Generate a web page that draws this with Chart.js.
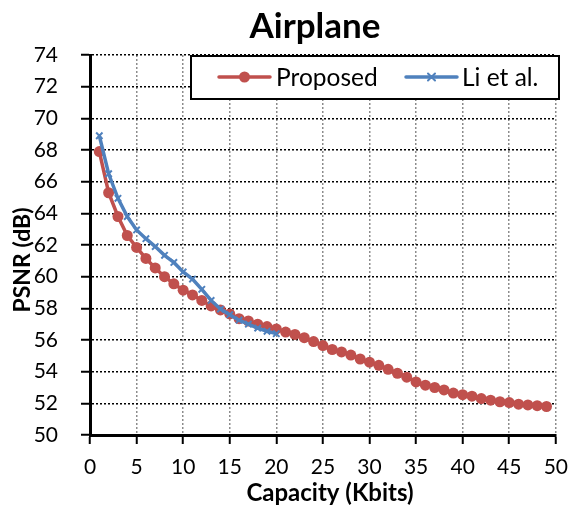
<!DOCTYPE html>
<html>
<head>
<meta charset="utf-8">
<script src="https://cdn.jsdelivr.net/npm/chart.js@4.4.0/dist/chart.umd.min.js"></script>
<style>
html,body{margin:0;padding:0;background:#fff;}
#wrap{width:579px;height:510px;position:relative;}
</style>
</head>
<body>
<div id="wrap"><canvas id="c" width="579" height="510"></canvas></div>
<script>
const chartTitle = 'Airplane';
const xTitle = 'Capacity (Kbits)';
const yTitle = 'PSNR (dB)';
const seriesNames = ['Proposed', 'Li et al.'];

const proposedX = [1,2,3,4,5,6,7,8,9,10,11,12,13,14,15,16,17,18,19,20,21,22,23,24,25,26,27,28,29,30,31,32,33,34,35,36,37,38,39,40,41,42,43,44,45,46,47,48,49];
const proposedY = [67.9,65.3,63.8,62.6,61.85,61.15,60.55,60.0,59.55,59.15,58.85,58.5,58.15,57.9,57.65,57.35,57.2,57.0,56.85,56.7,56.5,56.35,56.15,55.9,55.65,55.4,55.25,55.05,54.8,54.6,54.4,54.15,53.9,53.65,53.35,53.15,53.0,52.85,52.65,52.55,52.45,52.3,52.2,52.1,52.05,51.95,51.9,51.85,51.8];

const liX = [1,2,3,4,5,6,7,8,9,10,11,12,13,14,15,16,17,18,19,20];
const liY = [68.9,66.5,64.95,63.8,62.95,62.4,61.9,61.35,60.9,60.3,59.85,59.2,58.5,57.95,57.6,57.25,57.0,56.75,56.55,56.4];

const xMin = 0, xMax = 50, xStep = 5;
const yMin = 50, yMax = 74, yStep = 2;

const RED = '#C0504D', BLUE = '#4F81BD';
const FONT = 'Lato, "Open Sans", "Noto Sans", sans-serif';

function pts(xs, ys){ return xs.map((x,i)=>({x:x, y:ys[i]})); }

const overlay = {
  id: 'overlay',
  afterDraw(chart){
    const ctx = chart.ctx;
    ctx.save();
    ctx.fillStyle = '#000';
    ctx.textAlign = 'center';
    ctx.textBaseline = 'middle';
    ctx.font = 'bold 35px ' + FONT;
    ctx.fillText(chartTitle, 315, 27);
    ctx.font = 'bold 24px ' + FONT;
    ctx.fillText(xTitle, 330, 493);
    ctx.save();
    ctx.translate(23, 260);
    ctx.rotate(-Math.PI/2);
    ctx.font = 'bold 23px ' + FONT;
    ctx.fillText(yTitle, 0, 0);
    ctx.restore();
    const bx = 190, by = 55, bw = 370, bh = 45;
    ctx.fillStyle = '#fff';
    ctx.fillRect(bx, by, bw, bh);
    ctx.strokeStyle = '#000';
    ctx.lineWidth = 2;
    ctx.strokeRect(bx+1, by+1, bw-2, bh-2);
    const ly = by + 22;
    ctx.strokeStyle = RED; ctx.lineWidth = 3.5; ctx.lineCap = 'round';
    ctx.beginPath(); ctx.moveTo(219, ly); ctx.lineTo(270, ly); ctx.stroke();
    ctx.fillStyle = RED;
    ctx.beginPath(); ctx.arc(244.5, ly, 5.5, 0, Math.PI*2); ctx.fill();
    ctx.strokeStyle = BLUE;
    ctx.beginPath(); ctx.moveTo(406, ly); ctx.lineTo(457, ly); ctx.stroke();
    ctx.lineWidth = 2;
    ctx.beginPath();
    ctx.moveTo(431.5-3.5, ly-3.5); ctx.lineTo(431.5+3.5, ly+3.5);
    ctx.moveTo(431.5-3.5, ly+3.5); ctx.lineTo(431.5+3.5, ly-3.5);
    ctx.stroke();
    ctx.fillStyle = '#000';
    ctx.textAlign = 'left';
    ctx.font = '24.5px ' + FONT;
    ctx.fillText(seriesNames[0], 276, ly+1);
    ctx.fillText(seriesNames[1], 462, ly+1);
    ctx.restore();
  }
};

new Chart(document.getElementById('c'), {
  type: 'line',
  data: {
    datasets: [
      {
        label: seriesNames[1],
        data: pts(liX, liY),
        borderColor: BLUE,
        backgroundColor: BLUE,
        borderWidth: 3.5,
        pointStyle: 'crossRot',
        pointRadius: 4.5,
        pointBorderWidth: 2,
        pointBorderColor: BLUE,
        tension: 0,
        order: 0
      },
      {
        label: seriesNames[0],
        data: pts(proposedX, proposedY),
        borderColor: RED,
        backgroundColor: RED,
        borderWidth: 3.5,
        pointStyle: 'circle',
        pointRadius: 5.5,
        pointBorderWidth: 0,
        pointBackgroundColor: RED,
        tension: 0,
        order: 1
      }
    ]
  },
  options: {
    responsive: false,
    animation: false,
    devicePixelRatio: 1,
    layout: { padding: { top: 55, right: 18, left: 0, bottom: 0 } },
    plugins: { legend: { display: false }, title: { display: false }, tooltip: { enabled: false } },
    scales: {
      x: {
        type: 'linear', min: xMin, max: xMax,
        afterFit(s){ s.height = 75; },
        ticks: { stepSize: xStep, color: '#000', font: { family: FONT, size: 21 }, padding: 11, maxRotation: 0 },
        grid: { color: '#8c8c8c', lineWidth: 1.5, tickColor: '#000', tickWidth: 2, tickLength: 9, tickBorderDash: [] },
        border: { display: true, color: '#000', width: 3, dash: [2, 2] }
      },
      y: {
        type: 'linear', min: yMin, max: yMax,
        afterFit(s){ s.width = 90; },
        ticks: { stepSize: yStep, color: '#000', font: { family: FONT, size: 21 }, padding: 23 },
        grid: { color: '#000', lineWidth: 1.5, tickColor: '#000', tickWidth: 2, tickLength: 9, tickBorderDash: [] },
        border: { display: true, color: '#000', width: 3, dash: [2, 2] }
      }
    }
  },
  plugins: [overlay]
});
</script>
</body>
</html>
